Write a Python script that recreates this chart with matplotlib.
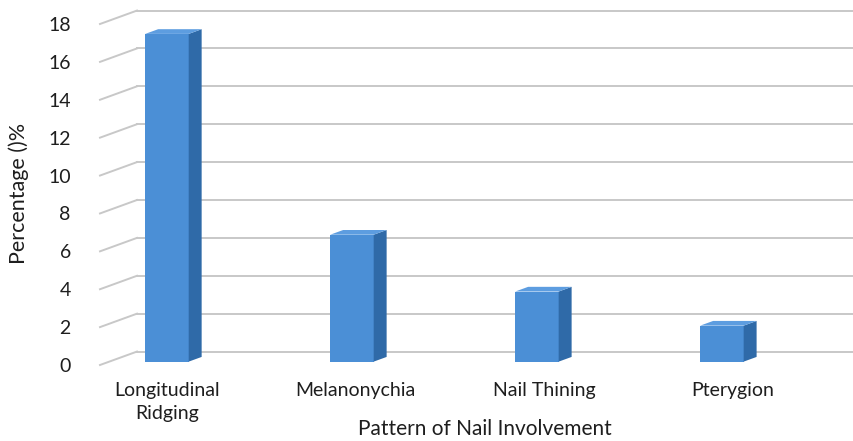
import numpy as np
import matplotlib
matplotlib.use('Agg')
import matplotlib.pyplot as plt
from matplotlib.patches import Polygon

plt.rcParams['font.family'] = ['Lato', 'DejaVu Sans']

categories = ['Longitudinal\nRidging', 'Melanonychia', 'Nail Thining', 'Pterygion']
values = [17.3, 6.7, 3.7, 1.9]
yticks = [0, 2, 4, 6, 8, 10, 12, 14, 16, 18]

# pseudo 3d layout (data units)
DX, DY = 0.2, 0.71       # full floor depth offset
d0, d1 = 0.25, 0.6      # bar front / back depth
w = 0.235               # bar width
x_left = -0.362

fig = plt.figure(figsize=(8.54, 4.41), dpi=100)
ax = fig.add_axes([100/854, 76/441, 754/854, 341/441])
ax.set_xlim(x_left, 3.714)
ax.set_ylim(0, 18)

grid_c = '#c8c8c8'
for v in yticks:
    ax.plot([x_left, x_left + DX], [v, v + DY], color=grid_c, lw=1.4, clip_on=False, zorder=1)
    ax.plot([x_left + DX, 3.714], [v + DY, v + DY], color=grid_c, lw=1.4, clip_on=False, zorder=1)

front_c, side_c, top_c = '#4b8fd6', '#2f6aa8', '#5d9de0'
for i, v in enumerate(values):
    xl, xr = i - w/2, i + w/2
    y0 = d0 * DY
    ox, oy = (d1 - d0) * DX, (d1 - d0) * DY
    front = Polygon([(xl, y0), (xr, y0), (xr, y0 + v), (xl, y0 + v)], closed=True,
                    facecolor=front_c, edgecolor='none', zorder=3, clip_on=False)
    side = Polygon([(xr, y0), (xr + ox, y0 + oy), (xr + ox, y0 + v + oy), (xr, y0 + v)], closed=True,
                   facecolor=side_c, edgecolor='none', zorder=3, clip_on=False)
    top = Polygon([(xl, y0 + v), (xr, y0 + v), (xr + ox, y0 + v + oy), (xl + ox, y0 + v + oy)], closed=True,
                  facecolor=top_c, edgecolor='none', zorder=3, clip_on=False)
    for p in (front, side, top):
        ax.add_patch(p)

for s in ax.spines.values():
    s.set_visible(False)
ax.set_yticks(yticks)
ax.set_yticklabels([str(t) for t in yticks], fontsize=14, color='#1e1e1e')
ax.tick_params(axis='y', length=0, pad=21)
# labels sit slightly right of the bars (perspective)
ax.set_xticks([i * 1.02 for i in range(len(categories))])
ax.set_xticklabels(categories, fontsize=14, color='#1e1e1e', linespacing=1.45)
ax.tick_params(axis='x', length=0, pad=12)

ax.set_xlabel('Pattern of Nail Involvement', fontsize=15, color='#1e1e1e')
ax.set_ylabel('Percentage ()%', fontsize=15.5, color='#1e1e1e')
ax.xaxis.set_label_coords((485 - 100) / 754, -(419 - 365) / 341)
ax.yaxis.set_label_coords(-(100 - 29) / 754, (365 - 193) / 341)

fig.savefig('out.png', dpi=100)
